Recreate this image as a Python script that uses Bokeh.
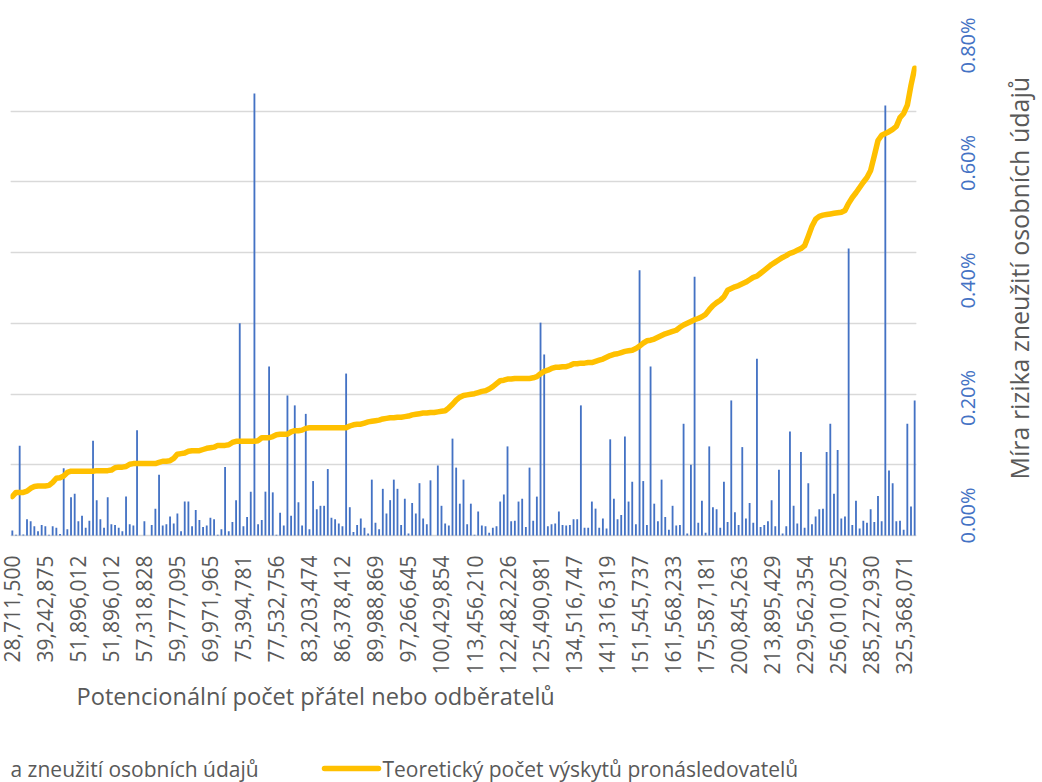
import math
from bokeh.plotting import figure
from bokeh.layouts import row, column
from bokeh.models import Range1d, LinearAxis, FixedTicker, PrintfTickFormatter, Grid
from bokeh.core.properties import value
from bokeh.embed import file_html
from bokeh.resources import INLINE

# x-axis tick labels (every 9th category is labelled)
tick_labels = ["28,711,500", "39,242,875", "51,896,012", "51,896,012", "57,318,828",
               "59,777,095", "69,971,965", "75,394,781", "77,532,756", "83,203,474",
               "86,378,412", "89,988,869", "97,266,645", "100,429,854", "113,456,210",
               "122,482,226", "125,490,981", "134,516,747", "141,316,319", "151,545,737",
               "161,568,233", "175,587,181", "200,845,263", "213,895,429", "229,562,354",
               "256,010,025", "285,272,930", "325,368,071"]
label_step = 9

# Blue bars: risk measure (hidden primary axis, gridline units)
bar_values = [
    0.07, 0.01, 1.27, 0.015, 0.23, 0.2, 0.13, 0.06, 0.15, 0.13,
    0.01, 0.13, 0.11, 0.02, 0.95, 0.09, 0.54, 0.59, 0.2, 0.28,
    0.11, 0.21, 1.34, 0.5, 0.23, 0.11, 0.54, 0.16, 0.15, 0.11,
    0.06, 0.55, 0.16, 0.14, 1.49, 0.0, 0.2, 0.0, 0.15, 0.38,
    0.86, 0.14, 0.16, 0.27, 0.17, 0.31, 0.06, 0.48, 0.48, 0.13,
    0.36, 0.22, 0.12, 0.14, 0.25, 0.23, 0.01, 0.09, 0.97, 0.06,
    0.19, 0.5, 3.0, 0.13, 0.26, 0.62, 6.25, 0.16, 0.22, 0.62,
    2.39, 0.61, 0.01, 0.32, 0.14, 1.98, 0.28, 1.84, 0.47, 0.14,
    1.72, 0.09, 0.77, 0.37, 0.42, 0.42, 0.94, 0.25, 0.23, 0.17,
    0.13, 2.29, 0.4, 0.05, 0.15, 0.24, 0.11, 0.03, 0.79, 0.18,
    0.09, 0.66, 0.31, 0.5, 0.79, 0.66, 0.15, 0.52, 0.03, 0.46,
    0.31, 0.74, 0.24, 0.16, 0.78, 0.0, 0.99, 0.42, 0.17, 0.14,
    1.37, 0.96, 0.45, 0.79, 0.16, 0.45, 0.01, 0.34, 0.14, 0.13,
    0.04, 0.11, 0.13, 0.48, 0.58, 1.26, 0.2, 0.21, 0.48, 0.52,
    0.12, 0.96, 0.21, 0.55, 3.01, 2.56, 0.13, 0.16, 0.17, 0.34,
    0.15, 0.14, 0.15, 0.23, 0.23, 1.84, 0.11, 0.11, 0.48, 0.38,
    0.11, 0.24, 0.1, 1.36, 0.52, 0.23, 0.29, 1.4, 0.48, 0.76,
    0.16, 3.75, 0.77, 0.15, 2.39, 0.45, 0.2, 0.79, 0.26, 0.08,
    0.42, 0.14, 0.15, 1.58, 0.03, 1.0, 3.66, 0.18, 0.49, 0.04,
    1.26, 0.4, 0.37, 0.11, 0.76, 0.19, 1.91, 0.33, 0.15, 1.25,
    0.24, 0.46, 0.18, 2.5, 0.12, 0.15, 0.2, 0.5, 0.13, 0.93,
    0.03, 0.13, 1.47, 0.42, 0.17, 1.18, 0.11, 0.74, 0.16, 0.27,
    0.37, 0.38, 1.18, 1.58, 0.59, 1.21, 0.24, 0.27, 4.06, 0.15,
    0.49, 0.1, 0.21, 0.18, 0.37, 0.19, 0.56, 0.2, 6.08, 0.92,
    0.74, 0.2, 0.21, 0.08, 1.58, 0.41, 1.91,
]

# Yellow line: theoretical count (secondary axis, in %)
line_values = [
    0.034, 0.041, 0.041, 0.041, 0.043, 0.048, 0.051, 0.052, 0.052, 0.052,
    0.053, 0.058, 0.065, 0.066, 0.069, 0.075, 0.077, 0.077, 0.077, 0.077,
    0.077, 0.077, 0.077, 0.078, 0.078, 0.078, 0.078, 0.079, 0.083, 0.084,
    0.084, 0.085, 0.089, 0.090, 0.090, 0.090, 0.090, 0.090, 0.090, 0.090,
    0.092, 0.094, 0.094, 0.095, 0.099, 0.106, 0.107, 0.108, 0.111, 0.112,
    0.112, 0.112, 0.114, 0.116, 0.117, 0.118, 0.121, 0.121, 0.121, 0.122,
    0.126, 0.128, 0.128, 0.128, 0.128, 0.128, 0.128, 0.129, 0.134, 0.134,
    0.134, 0.136, 0.139, 0.140, 0.140, 0.140, 0.144, 0.146, 0.146, 0.147,
    0.150, 0.151, 0.151, 0.151, 0.151, 0.151, 0.151, 0.151, 0.151, 0.151,
    0.151, 0.151, 0.154, 0.156, 0.157, 0.157, 0.159, 0.161, 0.162, 0.163,
    0.164, 0.166, 0.167, 0.168, 0.168, 0.169, 0.169, 0.170, 0.171, 0.173,
    0.174, 0.175, 0.176, 0.176, 0.177, 0.177, 0.178, 0.179, 0.180, 0.185,
    0.191, 0.198, 0.203, 0.206, 0.207, 0.208, 0.209, 0.211, 0.213, 0.214,
    0.217, 0.221, 0.226, 0.231, 0.232, 0.234, 0.234, 0.235, 0.235, 0.235,
    0.235, 0.235, 0.236, 0.238, 0.243, 0.247, 0.249, 0.252, 0.254, 0.254,
    0.255, 0.255, 0.257, 0.260, 0.260, 0.261, 0.261, 0.262, 0.262, 0.264,
    0.266, 0.268, 0.271, 0.274, 0.276, 0.277, 0.279, 0.281, 0.282, 0.283,
    0.286, 0.290, 0.295, 0.299, 0.300, 0.302, 0.305, 0.308, 0.311, 0.313,
    0.315, 0.317, 0.322, 0.326, 0.329, 0.332, 0.335, 0.337, 0.340, 0.344,
    0.352, 0.359, 0.364, 0.368, 0.374, 0.385, 0.388, 0.391, 0.393, 0.396,
    0.399, 0.403, 0.407, 0.409, 0.414, 0.419, 0.424, 0.429, 0.433, 0.437,
    0.441, 0.444, 0.448, 0.450, 0.453, 0.456, 0.461, 0.477, 0.494, 0.506,
    0.511, 0.513, 0.514, 0.515, 0.516, 0.517, 0.518, 0.521, 0.533, 0.543,
    0.551, 0.560, 0.569, 0.577, 0.589, 0.614, 0.640, 0.649, 0.652, 0.655,
    0.659, 0.664, 0.679, 0.686, 0.700, 0.734, 0.763,
]

pct_ticks = [0.0, 0.2, 0.4, 0.6, 0.8]
x_title = "Potencionální počet přátel nebo odběratelů"
y2_title = "Míra rizika zneužití osobních údajů"
legend_bar_visible = "a zneužití osobních údajů"
legend_line = "Teoretický počet výskytů pronásledovatelů"

FONT = "Open Sans"
GRAY = "#595959"
BLUE = "#4472C4"
GOLD = "#FFC000"

n = len(bar_values)
idx = list(range(n))

# ---------------- main chart ----------------
MAIN_W, MAIN_H = 1000, 680
p = figure(width=MAIN_W, height=MAIN_H, output_backend="svg", toolbar_location=None,
           x_range=Range1d(-0.5, n - 0.5), y_range=Range1d(-0.1414, 7),
           y_axis_location=None,
           min_border_left=10, min_border_right=84, min_border_top=40,
           min_border_bottom=135)
p.outline_line_color = None
p.background_fill_color = "white"
p.border_fill_color = "white"
p.xgrid.visible = False

grid = Grid(dimension=1, ticker=FixedTicker(ticks=[0, 1, 2, 3, 4, 5, 6, 7]),
            grid_line_color="#D9D9D9", grid_line_width=1.5)
p.add_layout(grid)

# "pct": scale of the line; "pct_lab": same scale, offset so that the
# rotated tick labels sit centred on their values
p.extra_y_ranges = {"pct": Range1d(-0.0494, 0.8102),
                    "pct_lab": Range1d(-0.0034, 0.8562)}

p.vbar(x=idx, top=bar_values, width=0.5, bottom=0, fill_color=BLUE, line_color=None)
p.line(idx, line_values, y_range_name="pct", line_color=GOLD,
       line_width=5.5, line_join="round", line_cap="round")

xa = p.xaxis[0]
tick_pos = list(range(0, n, label_step))
xa.ticker = FixedTicker(ticks=tick_pos)
xa.major_label_overrides = {t: lab for t, lab in zip(tick_pos, tick_labels)}
xa.major_label_orientation = math.pi / 2
xa.major_label_text_font = FONT
xa.major_label_text_font_size = "21px"
xa.major_label_text_color = GRAY
xa.major_label_standoff = 4
xa.major_tick_line_color = None
xa.minor_tick_line_color = None
xa.axis_line_color = None

ra = LinearAxis(y_range_name="pct_lab", ticker=FixedTicker(ticks=pct_ticks),
                formatter=PrintfTickFormatter(format="%.2f%%"))
ra.major_label_orientation = math.pi / 2
ra.major_label_text_font = FONT
ra.major_label_text_font_size = "20px"
ra.major_label_text_color = BLUE
ra.major_label_standoff = 45
ra.major_tick_line_color = None
ra.minor_tick_line_color = None
ra.axis_line_color = None
p.add_layout(ra, "right")

# ---------------- bottom strip: x title + legend ----------------
# (range offset compensates the strip's frame offset so x matches page pixels)
BOT_H = 782 - MAIN_H
OFF = 9
b = figure(frame_width=MAIN_W, frame_height=BOT_H, output_backend="svg",
           toolbar_location=None,
           x_range=Range1d(OFF, MAIN_W + OFF), y_range=Range1d(0, BOT_H),
           x_axis_location=None, y_axis_location=None,
           min_border=0, min_border_left=0, min_border_right=0,
           min_border_top=0, min_border_bottom=0)
b.outline_line_color = None
b.xgrid.visible = False
b.ygrid.visible = False
b.text(x=[75], y=[BOT_H - 15], text=[x_title], text_font=value(FONT),
       text_font_size="23.6px", text_color=GRAY, text_align="left",
       text_baseline="middle")
b.text(x=[OFF], y=[14], text=[legend_bar_visible], text_font=value(FONT),
       text_font_size="21px", text_color=GRAY, text_align="left",
       text_baseline="middle")
# legend entry for the line series
b.line(x=[323, 377], y=[14, 14], line_color=GOLD, line_width=5.5, line_cap="round")
b.text(x=[381], y=[14], text=[legend_line], text_font=value(FONT),
       text_font_size="21px", text_color=GRAY, text_align="left",
       text_baseline="middle")

# ---------------- right strip: secondary axis title ----------------
RW = 1042 - MAIN_W
r = figure(frame_width=RW, frame_height=782, output_backend="svg",
           toolbar_location=None,
           x_range=Range1d(0, RW), y_range=Range1d(0, 782),
           x_axis_location=None, y_axis_location=None,
           min_border=0, min_border_left=0, min_border_right=0,
           min_border_top=0, min_border_bottom=0)
r.outline_line_color = None
r.xgrid.visible = False
r.ygrid.visible = False
r.text(x=[18], y=[782 - 479], text=[y2_title], angle=math.pi / 2,
       text_font=value(FONT), text_font_size="25px", text_color=GRAY,
       text_align="left", text_baseline="middle")

layout = row(column(p, b, spacing=0), r, spacing=0)
open("out.html", "w").write(file_html(layout, INLINE))
